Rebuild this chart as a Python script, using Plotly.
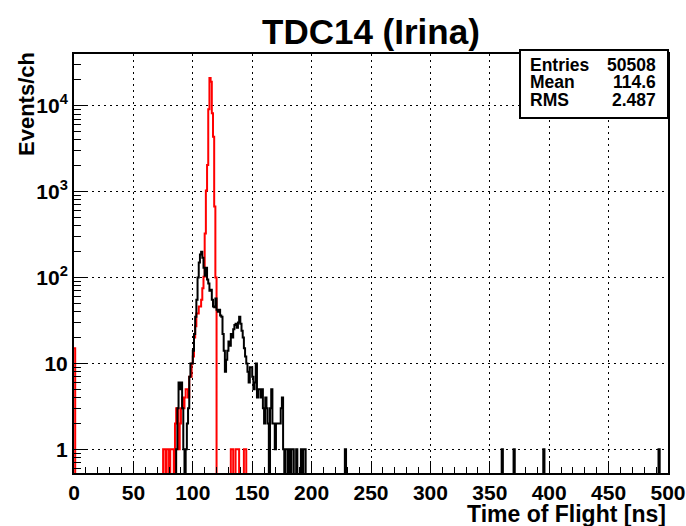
import plotly.graph_objects as go

# ---------------- data (1 ns bins, 0..500 ns) ----------------
n_bins = 500
# red histogram (drawn first, stats refer to it)
red_first_bin = {0: 15}
red_low_start = 75
red_low_counts = [1, 1, 0, 1, 1, 0, 1, 1, 1, 0,
                  2, 3, 3, 1, 2, 3, 4, 3, 4, 5,
                  5, 4, 7, 7, 10]
red_peak_start = 100
red_peak_counts = [12, 20, 27, 38, 38, 46, 46, 55, 75, 102,
                   325, 1030, 2040, 9100, 21000, 19000, 8150, 4360, 670, 100]
red_single_bins = [132, 133, 136, 137, 138, 143, 144]

# black histogram
black_start = 86
black_counts = [1, 3, 6, 5, 6, 3, 1, 0, 1, 2,            # 86-95
                3, 7, 10, 10, 14, 22, 35, 55, 100, 150,    # 96-105
                185, 200, 170, 130, 105, 130, 95, 85, 70, 72,  # 106-115
                55, 46, 45, 57, 42, 40, 42, 36, 35, 22,    # 116-125
                14, 8, 11, 14, 18, 16, 22, 20, 25, 28,     # 126-135
                29, 26, 30, 35, 29, 24, 20, 15, 12, 10,    # 136-145
                8, 6, 9, 9, 7, 5, 6, 10, 4, 5,             # 146-155
                5, 4, 5, 3, 2, 4, 3, 2, 0, 3,              # 156-165
                5, 2, 2, 1, 2, 2, 2, 2, 3, 4,              # 166-175
                1, 0, 1, 1, 0, 1, 0, 1, 1, 0,              # 176-185
                0, 1, 0, 0, 0, 1, 0, 1, 1]                 # 186-194
black_single_bins = [228, 360, 370, 395, 492]

stats_labels = ["Entries", "Mean", "RMS"]
stats_values = ["50508", "114.6", "2.487"]
x_tick_vals = [0, 50, 100, 150, 200, 250, 300, 350, 400, 450, 500]
y_tick_vals = [1, 10, 100, 1000, 10000]
y_tick_text = ["1", "10", "10<sup>2</sup>", "10<sup>3</sup>", "10<sup>4</sup>"]

# ---------------- build histograms ----------------
red = [0] * n_bins
for b, v in red_first_bin.items():
    red[b] = v
for i, v in enumerate(red_low_counts):
    red[red_low_start + i] = v
for i, v in enumerate(red_peak_counts):
    red[red_peak_start + i] = v
for b in red_single_bins:
    red[b] = 1

black = [0] * n_bins
for i, v in enumerate(black_counts):
    black[black_start + i] = v
for b in black_single_bins:
    black[b] = 1

edges = list(range(n_bins + 1))
FLOOR = 1e-3


def step_y(counts):
    ys = [c if c > 0 else FLOOR for c in counts]
    return ys + [ys[-1]]


FONT = "Liberation Sans, Arial, sans-serif"

fig = go.Figure()
fig.add_trace(go.Scatter(x=edges, y=step_y(red), mode="lines",
                         line=dict(color="#ff0000", width=2, shape="hv"),
                         hoverinfo="skip", showlegend=False))
fig.add_trace(go.Scatter(x=edges, y=step_y(black), mode="lines",
                         line=dict(color="#000000", width=2, shape="hv"),
                         hoverinfo="skip", showlegend=False))

L, R, T, B = 74, 18, 54, 53
W, H = 686, 526
PW, PH = W - L - R, H - T - B


def px(x):
    return (x - L) / PW


def py(y):
    return (H - B - y) / PH


y_minor = []
for d in [0.1, 1, 10, 100, 1000, 10000]:
    for k in range(2, 10):
        v = k * d
        if 0.53 <= v <= 40000:
            y_minor.append(v)

fig.update_layout(
    width=W, height=H,
    margin=dict(l=L, r=R, t=T, b=B, autoexpand=False),
    paper_bgcolor="white", plot_bgcolor="white",
    font=dict(family=FONT, color="black", size=18),
    xaxis=dict(range=[0, 500], showline=True, linecolor="black", linewidth=2,
               mirror=True, ticks="inside", ticklen=12, tickwidth=1, tickcolor="black",
               tickvals=x_tick_vals, automargin=False, ticklabeloverflow="allow",
               tickfont=dict(family=FONT, size=21, weight="bold"),
               showgrid=True, gridcolor="black", gridwidth=1, griddash="2px,4px",
               zeroline=False,
               minor=dict(dtick=10, ticks="inside", ticklen=6, tickcolor="black",
                          showgrid=False)),
    yaxis=dict(type="log", range=[-0.276, 4.602], showline=True, linecolor="black",
               linewidth=2, mirror=True, ticks="inside", ticklen=13, tickwidth=1,
               tickcolor="black", tickvals=y_tick_vals, ticktext=y_tick_text,
               automargin=False,
               tickfont=dict(family=FONT, size=21, weight="bold"),
               showgrid=True, gridcolor="black", gridwidth=1, griddash="2px,4px",
               zeroline=False,
               minor=dict(tickvals=y_minor, ticks="inside", ticklen=7,
                          tickcolor="black", showgrid=False)),
)

annotations = [
    dict(text="<b>TDC14 (Irina)</b>", x=0.5, xref="paper", y=py(31), yref="paper",
         xanchor="center", yanchor="middle", showarrow=False,
         font=dict(family=FONT, size=35, color="black")),
    dict(text="<b>Time of Flight [ns]</b>", x=1.0, xref="paper", y=py(514), yref="paper",
         xanchor="right", yanchor="middle", showarrow=False,
         font=dict(family=FONT, size=23, color="black")),
    dict(text="<b>Events/ch</b>", x=px(26), xref="paper", y=py(50), yref="paper",
         xanchor="center", yanchor="top", textangle=-90, showarrow=False,
         font=dict(family=FONT, size=22, color="black")),
]
row_y = [65, 82, 100]
for lab, val, ry in zip(stats_labels, stats_values, row_y):
    annotations.append(dict(text="<b>%s</b>" % lab, x=px(528), xref="paper",
                            y=py(ry), yref="paper", xanchor="left", yanchor="middle",
                            showarrow=False, font=dict(family=FONT, size=17.5, color="black")))
    annotations.append(dict(text="<b>%s</b>" % val, x=px(658), xref="paper",
                            y=py(ry), yref="paper", xanchor="right", yanchor="middle",
                            showarrow=False, font=dict(family=FONT, size=17.5, color="black")))
fig.update_layout(annotations=annotations)

fig.add_shape(type="rect", xref="paper", yref="paper",
              x0=px(520), x1=px(668), y0=py(118), y1=py(50),
              fillcolor="white", line=dict(color="black", width=2), layer="above")

fig.write_html("out.html")
